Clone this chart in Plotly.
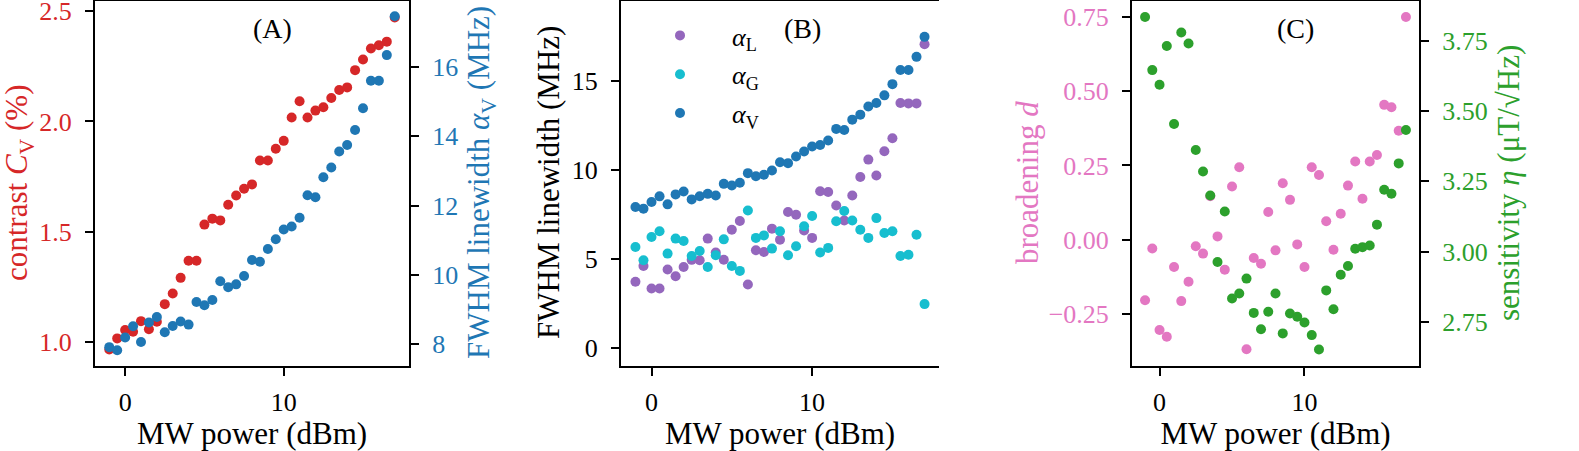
import plotly.graph_objects as go

# MW power steps (dBm)
power = [-1 + 0.5 * i for i in range(37)]

# panel A: contrast C_V (%)
contrast = [0.968, 1.018, 1.056, 1.048, 1.096, 1.059, 1.093, 1.173, 1.221, 1.292,
            1.369, 1.369, 1.533, 1.560, 1.552, 1.623, 1.665, 1.695, 1.715, 1.823,
            1.823, 1.876, 1.912, 2.018, 2.091, 2.018, 2.049, 2.064, 2.106, 2.142,
            2.154, 2.232, 2.280, 2.330, 2.345, 2.361, 2.470]

# panel B: fitted linewidths (MHz)
alpha_v = [7.92, 7.83, 8.20, 8.52, 8.07, 8.63, 8.79, 8.35, 8.53, 8.66,
           8.57, 9.22, 9.13, 9.28, 9.82, 9.65, 9.73, 9.97, 10.43, 10.38,
           10.75, 11.03, 11.31, 11.40, 11.65, 12.30, 12.24, 12.82, 13.10, 13.56,
           13.75, 14.18, 14.81, 15.60, 15.60, 16.34, 17.46]
alpha_l = [3.73, 4.62, 3.35, 3.35, 4.42, 4.04, 4.56, 4.96, 4.94, 6.15,
           5.37, 4.97, 6.65, 7.14, 3.58, 5.50, 5.40, 6.71, 6.09, 7.64,
           7.49, 6.61, 6.19, 8.81, 8.76, 8.01, 7.17, 8.57, 9.60, 10.58,
           9.69, 11.05, 11.78, 13.75, 13.73, 13.73, 17.05]
alpha_g = [5.68, 4.94, 6.24, 6.56, 5.31, 6.15, 6.02, 5.18, 5.46, 4.56,
           5.22, 6.11, 4.62, 4.34, 7.73, 6.19, 6.33, 5.59, 6.56, 5.22,
           5.72, 6.84, 7.42, 5.37, 5.63, 7.12, 7.70, 7.17, 6.65, 6.19,
           7.30, 6.47, 6.56, 5.18, 5.25, 6.37, 2.48]

# panel C: broadening d and sensitivity eta (uT/sqrt(Hz))
broadening = [-0.204, -0.030, -0.304, -0.327, -0.092, -0.207, -0.142, -0.022, -0.047, 0.146,
              0.011, -0.101, 0.179, 0.244, -0.369, -0.062, -0.081, 0.093, -0.036, 0.190,
              0.134, -0.016, -0.092, 0.244, 0.218, 0.062, -0.034, 0.087, 0.182, 0.263,
              0.138, 0.263, 0.285, 0.454, 0.446, 0.367, 0.750]
sensitivity = [3.835, 3.646, 3.594, 3.732, 3.454, 3.780, 3.741, 3.362, 3.285, 3.200,
               2.963, 3.143, 2.833, 2.851, 2.904, 2.782, 2.724, 2.786, 2.851, 2.709,
               2.780, 2.768, 2.748, 2.703, 2.652, 2.862, 2.795, 2.918, 2.949, 3.010,
               3.016, 3.022, 3.096, 3.220, 3.206, 3.314, 3.433]

RED, BLUE, PURPLE, CYAN, PINK, GREEN = "#d62728", "#1f77b4", "#9467bd", "#17becf", "#e377c2", "#2ca02c"
FONT = "Liberation Serif"
FS = 26        # tick labels, legend
FS_TITLE = 31  # axis titles
W, H = 1579, 451


def dots(x, y, color, xa, ya, name=None, legend=False):
    return go.Scatter(x=x, y=y, mode="markers", name=name, showlegend=legend,
                      legendgroup=name, marker=dict(size=10, color=color), xaxis=xa, yaxis=ya)


fig = go.Figure()
fig.add_trace(dots(power, contrast, RED, "x", "y"))
fig.add_trace(dots(power, alpha_v, BLUE, "x", "y2"))
fig.add_trace(dots(power, alpha_l, PURPLE, "x2", "y3", "<i>α</i><sub>L</sub>", True))
fig.add_trace(dots(power, alpha_g, CYAN, "x2", "y3", "<i>α</i><sub>G</sub>", True))
fig.add_trace(dots(power, alpha_v, BLUE, "x2", "y3", "<i>α</i><sub>V</sub>", True))
fig.add_trace(dots(power, broadening, PINK, "x3", "y4"))
fig.add_trace(dots(power, sensitivity, GREEN, "x3", "y5"))

ydom = [(H - 366) / H, (H - 1) / H]
axis_common = dict(showgrid=False, zeroline=False, showline=True, linecolor="black",
                   linewidth=2, ticks="outside", ticklen=8, tickwidth=2, tickcolor="black",
                   automargin=False)


def xaxis(dom, anchor):
    return dict(axis_common, domain=[dom[0] / W, dom[1] / W], anchor=anchor, mirror=True,
                range=[-1.9, 17.9], tickvals=[0, 10], ticklabelstandoff=4,
                title=dict(text="MW power (dBm)", standoff=12, font=dict(size=FS_TITLE)))


def yaxis(anchor, rng, vals, color, side="left", overlay=None, labels=None):
    d = dict(axis_common, anchor=anchor, side=side, range=rng, tickvals=vals,
             ticklabelstandoff=8, ticklabeloverflow="allow", tickfont=dict(color=color))
    if labels:
        d["ticktext"] = labels
    if overlay:
        d["overlaying"] = overlay
    else:
        d["domain"] = ydom
    return d


fig.update_layout(
    template="none",
    width=W, height=H,
    margin=dict(l=0, r=0, t=0, b=0),
    paper_bgcolor="white", plot_bgcolor="white",
    font=dict(family=FONT, size=FS, color="black"),
    xaxis=xaxis((95, 409), "y"),
    xaxis2=xaxis((621, 939), "y3"),
    xaxis3=xaxis((1132, 1419), "y4"),
    yaxis=yaxis("x", [0.893, 2.545], [1.0, 1.5, 2.0, 2.5], RED, labels=["1.0", "1.5", "2.0", "2.5"]),
    yaxis2=yaxis("x", [7.376, 17.9], [8, 10, 12, 14, 16], BLUE, side="right", overlay="y"),
    yaxis3=yaxis("x2", [-0.99, 19.47], [0, 5, 10, 15], "black"),
    yaxis4=yaxis("x3", [-0.4255, 0.8037], [-0.25, 0, 0.25, 0.5, 0.75], PINK,
                 labels=["−0.25", "0.00", "0.25", "0.50", "0.75"]),
    yaxis5=yaxis("x3", [2.593, 3.892], [2.75, 3.0, 3.25, 3.5, 3.75], GREEN, side="right",
                 overlay="y4", labels=["2.75", "3.00", "3.25", "3.50", "3.75"]),
    legend=dict(x=628 / W, y=1 - 12 / H, xanchor="left", yanchor="top", tracegroupgap=2,
                bgcolor="rgba(0,0,0,0)", itemwidth=94, font=dict(size=FS)),
)

# panel letters
for label, px in [("(A)", 272), ("(B)", 802), ("(C)", 1295)]:
    fig.add_annotation(text=label, x=px / W, y=1 - 28 / H, xref="paper", yref="paper",
                       xanchor="center", yanchor="middle", showarrow=False, font=dict(size=28))

# y-axis titles, rotated like matplotlib ylabels
ytitles = [("contrast <i>C</i><sub>V</sub> (%)", 19, RED),
           ("FWHM linewidth <i>α</i><sub>V</sub> (MHz)", 481, BLUE),
           ("FWHM linewidth (MHz)", 548, "black"),
           ("broadening <i>d</i>", 1027, PINK),
           ("sensitivity <i>η</i> (μT/√Hz)", 1508, GREEN)]
for text, px, color in ytitles:
    fig.add_annotation(text=text, x=px / W, y=1 - 183 / H, xref="paper", yref="paper",
                       xanchor="center", yanchor="middle", textangle=-90, showarrow=False,
                       font=dict(size=FS_TITLE, color=color))

# drop the default page margin so the figure sits at the window corner
fig.write_html("out.html", config={"displayModeBar": False},
               post_script="document.body.style.margin='0';")
